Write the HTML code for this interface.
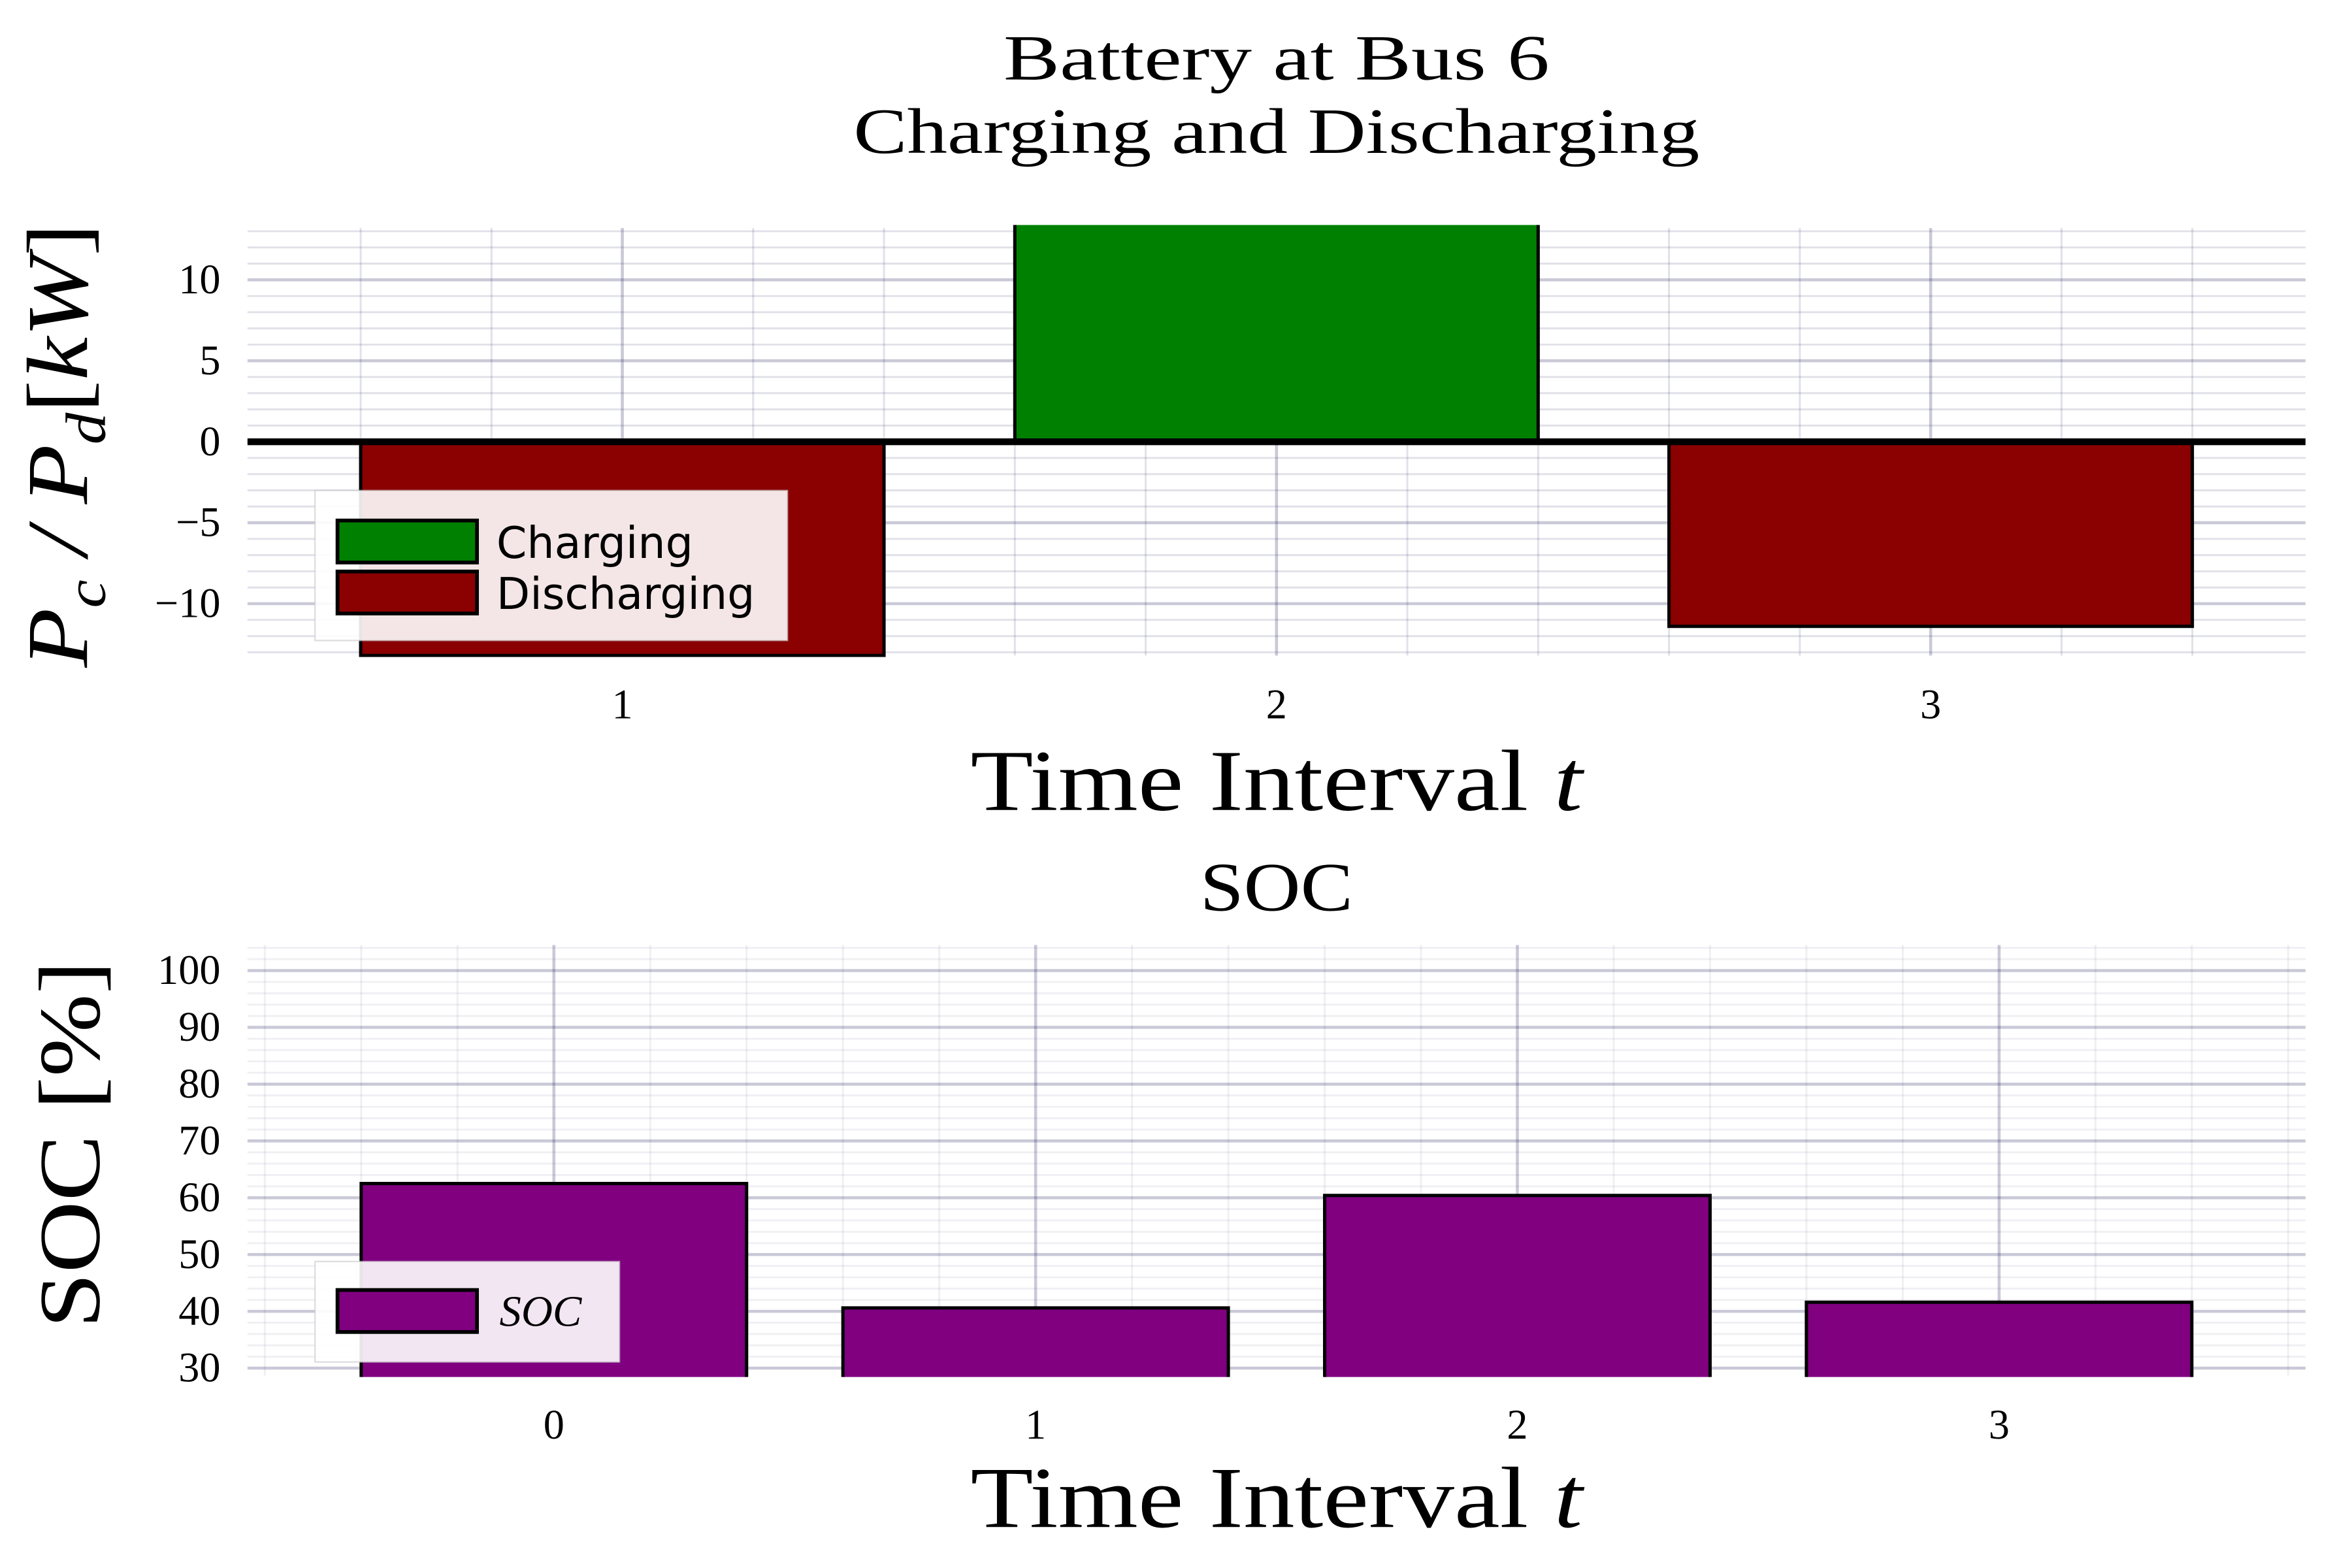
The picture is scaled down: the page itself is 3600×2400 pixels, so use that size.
<!DOCTYPE html>
<html><head><meta charset="utf-8"><style>
html,body{margin:0;padding:0;background:#fff;}
svg{display:block;}
text{font-family:"Liberation Serif",serif;fill:#000;}
</style></head><body>
<svg id="fig" width="3600" height="2400" viewBox="0 0 1568 1045.33" preserveAspectRatio="none" xmlns="http://www.w3.org/2000/svg">
<defs>
<clipPath id="c1"><rect x="165" y="150" width="1372" height="288"/></clipPath>
<clipPath id="c2"><rect x="165" y="630" width="1372" height="288"/></clipPath>
</defs>
<text x="851" y="53" font-size="43" text-anchor="middle" textLength="364" lengthAdjust="spacingAndGlyphs">Battery at Bus 6</text>
<text x="851" y="102" font-size="43" text-anchor="middle" textLength="564" lengthAdjust="spacingAndGlyphs">Charging and Discharging</text>
<g id="p1"></g>
<g id="p2"></g>
</svg>
<script>
const powerCategories = [1, 2, 3];
const powerValues = [-13.2, 13.6, -11.4];
const powerTicks = [-10, -5, 0, 5, 10];
const powerTickLabels = ["\u221210", "\u22125", "0", "5", "10"];
const socCategories = [0, 1, 2, 3];
const socValues = [62.5, 40.6, 60.4, 41.6];
const socTicks = [30, 40, 50, 60, 70, 80, 90, 100];
const socTickLabels = ["30", "40", "50", "60", "70", "80", "90", "100"];

const NS = "http://www.w3.org/2000/svg";
function mk(parent, tag, attrs, txt){
  const e = document.createElementNS(NS, tag);
  for (const k in attrs) e.setAttribute(k, attrs[k]);
  if (txt !== undefined) e.textContent = txt;
  parent.appendChild(e);
  return e;
}
const X0 = 165, X1 = 1537;

// ---- Top chart ----
const p1 = document.getElementById('p1');
const t1 = 152, b1 = 437, ymin1 = -13.2, ymax1 = 13.2, xmin1 = 0.427, xmax1 = 3.573;
const sx1 = v => X0 + (v - xmin1) / (xmax1 - xmin1) * (X1 - X0);
const sy1 = v => b1 - (v - ymin1) / (ymax1 - ymin1) * (b1 - t1);
for (let v = -13; v <= 13; v++) {
  const g = mk(p1, 'line', {x1:X0, x2:X1, y1:sy1(v), y2:sy1(v), stroke: v%5===0 ? 'rgba(40,40,100,0.25)' : 'rgba(40,40,100,0.14)', 'stroke-width': v%5===0 ? 2 : 1.3});
  
  
}
for (let i = 0; i <= 15; i++) {
  const v = 0.6 + i*0.2;
  if (v > xmax1) break;
  const major = Math.abs(v - Math.round(v)) < 1e-6;
  const g = mk(p1, 'line', {x1:sx1(v), x2:sx1(v), y1:t1, y2:b1, stroke: major ? 'rgba(40,40,100,0.25)' : 'rgba(40,40,100,0.14)', 'stroke-width': major ? 2 : 1.3});
  
  
}
const bars1 = mk(p1, 'g', {'clip-path':'url(#c1)'});
powerCategories.forEach((c, i) => {
  const v = powerValues[i];
  const y0 = sy1(0), y = sy1(v);
  const r = mk(bars1, 'rect', {x:sx1(c-0.4), y:Math.min(y0,y), width:sx1(c+0.4)-sx1(c-0.4), height:Math.abs(y-y0), fill: v>=0 ? '#008000' : '#8b0000', stroke:'#000', 'stroke-width':2.2});
  
  
});
const zl = mk(p1, 'line', {x1:X0, x2:X1, y1:sy1(0), y2:sy1(0), stroke:'#000', 'stroke-width':4.5});


powerTicks.forEach((v, i) => {
  const t = mk(p1, 'text', {x:147, y:sy1(v)+9, 'font-size':28, 'text-anchor':'end'}, powerTickLabels[i]);
  
  
});
powerCategories.forEach(c => {
  const t = mk(p1, 'text', {x:sx1(c), y:479, 'font-size':28, 'text-anchor':'middle'}, String(c));
  
  
});
let xl = mk(p1, 'text', {x:851, y:540, 'font-size':58, 'text-anchor':'middle', textLength:408, lengthAdjust:'spacingAndGlyphs'});
xl.innerHTML = 'Time Interval <tspan font-style="italic">t</tspan>';


let yl = mk(p1, 'text', {x:0, y:0, 'font-size':58, 'text-anchor':'middle', 'font-style':'italic', transform:'translate(58,297) rotate(-90)', textLength:296, lengthAdjust:'spacingAndGlyphs'});
yl.innerHTML = 'P<tspan font-size="38" dy="12">c</tspan><tspan dy="-12"> / P</tspan><tspan font-size="38" dy="12">d</tspan><tspan dy="-12" font-style="normal">[</tspan>kW<tspan font-style="normal">]</tspan>';


const lg1 = mk(p1, 'g', {});


mk(lg1, 'rect', {x:210, y:327, width:315, height:100, fill:'rgba(255,255,255,0.9)', stroke:'rgba(200,200,200,0.6)', 'stroke-width':1});
const le1 = mk(lg1, 'rect', {x:225, y:347, width:93, height:28, fill:'#008000', stroke:'#000', 'stroke-width':2.5});


mk(lg1, 'text', {x:331, y:372, 'font-size':29, style:'font-family:"DejaVu Sans",sans-serif'}, 'Charging');
const le2 = mk(lg1, 'rect', {x:225, y:381, width:93, height:28, fill:'#8b0000', stroke:'#000', 'stroke-width':2.5});


mk(lg1, 'text', {x:331, y:406, 'font-size':29, style:'font-family:"DejaVu Sans",sans-serif'}, 'Discharging');

// ---- Bottom chart ----
const p2 = document.getElementById('p2');
const t2 = 630, b2 = 917, ymin2 = 28.7, ymax2 = 104.5, xmin2 = -0.636, xmax2 = 3.636;
const sx2 = v => X0 + (v - xmin2) / (xmax2 - xmin2) * (X1 - X0);
const sy2 = v => b2 - (v - ymin2) / (ymax2 - ymin2) * (b2 - t2);
const st = mk(p2, 'text', {x:851, y:607, 'font-size':46, 'text-anchor':'middle', textLength:102, lengthAdjust:'spacingAndGlyphs'}, 'SOC');


for (let v = 30; v <= 104; v += 2) {
  const major = v % 10 === 0;
  const g = mk(p2, 'line', {x1:X0, x2:X1, y1:sy2(v), y2:sy2(v), stroke: major ? 'rgba(40,40,100,0.25)' : 'rgba(40,40,100,0.07)', 'stroke-width': major ? 2 : 1.3});
  
  
}
for (let i = 0; i <= 22; i++) {
  const v = -0.6 + i*0.2;
  if (v > xmax2) break;
  const major = Math.abs(v - Math.round(v)) < 1e-6;
  const g = mk(p2, 'line', {x1:sx2(v), x2:sx2(v), y1:t2, y2:b2, stroke: major ? 'rgba(40,40,100,0.25)' : 'rgba(40,40,100,0.07)', 'stroke-width': major ? 2 : 1.3});
  
  
}
const bars2 = mk(p2, 'g', {'clip-path':'url(#c2)'});
socCategories.forEach((c, i) => {
  const v = socValues[i];
  const r = mk(bars2, 'rect', {x:sx2(c-0.4), y:sy2(v), width:sx2(c+0.4)-sx2(c-0.4), height:sy2(ymin2)-sy2(v)+4, fill:'#800080', stroke:'#000', 'stroke-width':2.2});
  
  
});
socTicks.forEach((v, i) => {
  const t = mk(p2, 'text', {x:147, y:sy2(v)+9, 'font-size':28, 'text-anchor':'end'}, socTickLabels[i]);
  
  
});
socCategories.forEach(c => {
  const t = mk(p2, 'text', {x:sx2(c), y:959, 'font-size':28, 'text-anchor':'middle'}, String(c));
  
  
});
xl = mk(p2, 'text', {x:851, y:1018, 'font-size':58, 'text-anchor':'middle', textLength:408, lengthAdjust:'spacingAndGlyphs'});
xl.innerHTML = 'Time Interval <tspan font-style="italic">t</tspan>';


yl = mk(p2, 'text', {x:0, y:0, 'font-size':58, 'text-anchor':'middle', transform:'translate(66,763) rotate(-90)', textLength:245, lengthAdjust:'spacingAndGlyphs'}, 'SOC [%]');


const lg2 = mk(p2, 'g', {});


mk(lg2, 'rect', {x:210, y:841, width:203, height:67, fill:'rgba(255,255,255,0.9)', stroke:'rgba(200,200,200,0.6)', 'stroke-width':1});
const le3 = mk(lg2, 'rect', {x:225, y:860, width:93, height:28, fill:'#800080', stroke:'#000', 'stroke-width':2.5});


mk(lg2, 'text', {x:333, y:884, 'font-size':29, 'font-style':'italic'}, 'SOC');
</script>
</body></html>
